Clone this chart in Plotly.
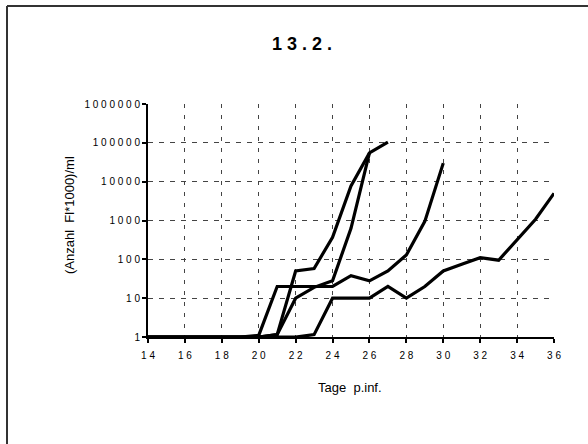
import plotly.graph_objects as go

# Tage post infectionem
tage = list(range(14, 37))

# Anzahl Fl*1000 pro ml, vier Verläufe
kurve_1 = [1, 1, 1, 1, 1, 1, 1, 1.15, 50, 58, 370, 7800, 55000, 105000]
kurve_2 = [1, 1, 1, 1, 1, 1, 1, 1.15, 10, 19, 28, 630, 55000]
kurve_3 = [1, 1, 1, 1, 1, 1, 1.1, 20, 20, 20, 20, 38, 28, 50, 130, 950, 30000]
kurve_4 = [1, 1, 1, 1, 1, 1, 1, 1, 1, 1.15, 10, 10, 10, 20, 10, 20, 50, 75,
           110, 95, 330, 1080, 5000]

x_ticks = list(range(14, 37, 2))
x_labels = [" ".join(str(t)) for t in x_ticks]
y_ticks = [1, 10, 100, 1000, 10000, 100000, 1000000]
y_labels = [" ".join(str(t)) for t in y_ticks]

titel = "1 3 . 2 ."
x_titel = "Tage\u00a0\u00a0p.inf."
y_titel = "(Anzahl\u00a0\u00a0Fl*1000)/ml"

fig = go.Figure()
for kurve in (kurve_4, kurve_3, kurve_2, kurve_1):
    fig.add_trace(go.Scatter(
        x=tage[:len(kurve)], y=kurve, mode="lines",
        line=dict(color="black", width=3.2), showlegend=False,
        hoverinfo="skip",
    ))

# plot area in pixels: x 148..554, y 104..337
L, R, T, B = 148, 554, 104, 337
W, H = R - L, B - T


def px(xp):
    return (xp - L) / W


def py(yp):
    return (B - yp) / H


fig.update_layout(
    width=588, height=444,
    margin=dict(l=L, r=588 - R, t=T, b=444 - B),
    paper_bgcolor="white", plot_bgcolor="white",
    font=dict(family="Liberation Sans, Arial, sans-serif", color="black", size=10),
    xaxis=dict(
        range=[14, 36], tickvals=x_ticks, ticktext=x_labels,
        showline=True, linecolor="black", linewidth=2,
        ticks="outside", ticklen=4, tickwidth=2, tickcolor="black",
        showgrid=True, gridcolor="#444", gridwidth=1, griddash="4px,7px",
        zeroline=False, tickfont=dict(size=10), ticklabelstandoff=4,
    ),
    yaxis=dict(
        type="log", range=[0, 6], tickvals=y_ticks, ticktext=y_labels,
        showline=True, linecolor="black", linewidth=2,
        ticks="outside", ticklen=4, tickwidth=2, tickcolor="black",
        showgrid=True, gridcolor="#444", gridwidth=1, griddash="5px,6px",
        zeroline=False, tickfont=dict(size=10),
    ),
    annotations=[
        dict(text="<b>" + titel + "</b>", xref="paper", yref="paper",
             x=px(302), y=py(44),
             xanchor="center", yanchor="middle", showarrow=False,
             font=dict(size=18)),
        dict(text=x_titel, xref="paper", yref="paper", x=px(350), y=py(387),
             xanchor="center", yanchor="middle", showarrow=False,
             font=dict(size=13)),
        dict(text=y_titel, xref="paper", yref="paper", x=px(69), y=py(215),
             xanchor="center", yanchor="middle", showarrow=False,
             textangle=-90, font=dict(size=13)),
    ],
    shapes=[
        dict(type="line", xref="paper", yref="paper",
             x0=px(7), x1=px(590), y0=py(6), y1=py(6),
             line=dict(color="#333", width=2)),
        dict(type="line", xref="paper", yref="paper",
             x0=px(7), x1=px(7), y0=py(6), y1=py(446),
             line=dict(color="#333", width=2)),
    ],
)

fig.write_html("out.html")
